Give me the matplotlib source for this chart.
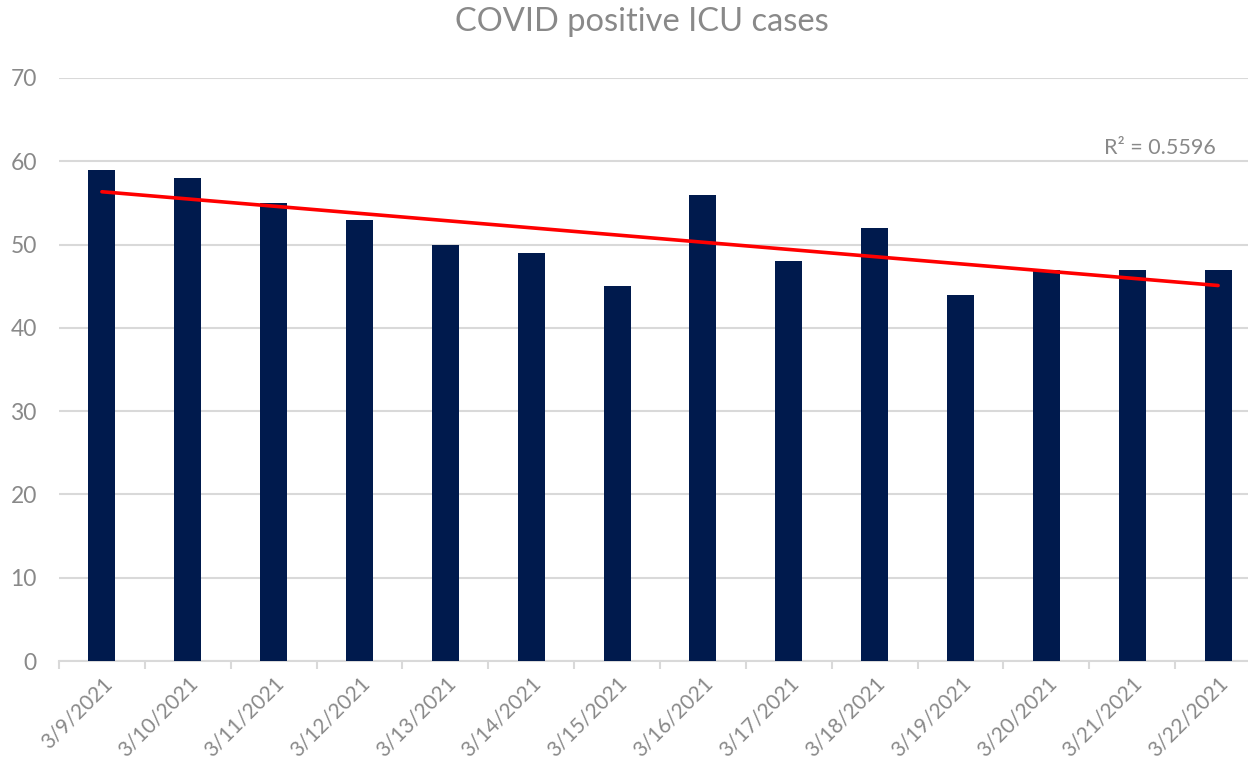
import numpy as np
import matplotlib
matplotlib.use("Agg")
import matplotlib.pyplot as plt

# Data
dates = ["3/9/2021", "3/10/2021", "3/11/2021", "3/12/2021", "3/13/2021",
         "3/14/2021", "3/15/2021", "3/16/2021", "3/17/2021", "3/18/2021",
         "3/19/2021", "3/20/2021", "3/21/2021", "3/22/2021"]
icu_cases = [59, 58, 55, 53, 50, 49, 45, 56, 48, 52, 44, 47, 47, 47]
y_ticks = [0, 10, 20, 30, 40, 50, 60, 70]

TEXT_GRAY = "#898989"
GRID_GRAY = "#d9d9d9"
BAR_NAVY = "#001a4d"

plt.rcParams['font.family'] = ['Lato', 'DejaVu Sans']

W, H = 1248, 767
fig = plt.figure(figsize=(W / 100, H / 100), dpi=100)
# plot area placed in pixel coords (right edge runs off the image like the original)
left, right, top, bottom = 59, 1261, 78, 661
ax = fig.add_axes([left / W, 1 - bottom / H, (right - left) / W, (bottom - top) / H])

x = np.arange(len(dates))
ax.bar(x, icu_cases, width=0.314, color=BAR_NAVY, zorder=2)

# linear trendline with R squared
y = np.array(icu_cases, dtype=float)
slope, intercept = np.polyfit(x, y, 1)
fit = slope * x + intercept
r2 = 1 - np.sum((y - fit) ** 2) / np.sum((y - y.mean()) ** 2)
ax.plot(x, fit, color="#ff0000", linewidth=2.6, solid_capstyle="round", zorder=3)
ax.text(12.32, 60.4, f"R² = {r2:.4f}", fontsize=15.5, color=TEXT_GRAY, ha="center", va="bottom")

ax.set_xlim(-0.5, len(dates) - 0.5)
ax.set_ylim(0, 70)
ax.set_yticks(y_ticks)
ax.yaxis.grid(True, color=GRID_GRAY, linewidth=1.5, zorder=0)
ax.set_axisbelow(True)

for side in ["top", "right", "left"]:
    ax.spines[side].set_visible(False)
ax.spines["bottom"].set_color(GRID_GRAY)
ax.spines["bottom"].set_linewidth(1.5)
ax.spines["bottom"].set_zorder(1)

ax.set_xticks(x)
ax.set_xticklabels(dates, rotation=45, ha="right", rotation_mode="anchor")
ax.set_xticks(np.arange(len(dates) + 1) - 0.5, minor=True)
ax.tick_params(axis="x", which="major", length=0, pad=9, labelsize=15, labelcolor=TEXT_GRAY)
ax.tick_params(axis="x", which="minor", length=6, width=1.5, color=GRID_GRAY, direction="out")
ax.tick_params(axis="y", length=0, pad=16, labelsize=16.5, labelcolor=TEXT_GRAY)

fig.text(642 / W, 1 - 22 / H, "COVID positive ICU cases", fontsize=23.5, color=TEXT_GRAY,
         ha="center", va="center")

fig.savefig("out.png", dpi=100)
